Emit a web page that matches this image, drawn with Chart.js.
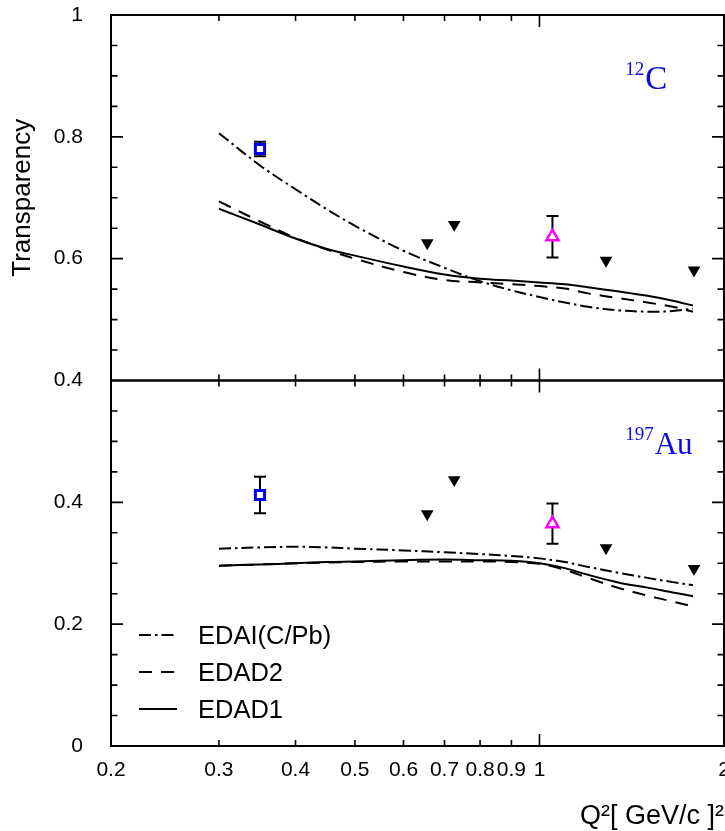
<!DOCTYPE html>
<html><head><meta charset="utf-8">
<script src="https://cdn.jsdelivr.net/npm/chart.js@4"></script>
<style>html,body{margin:0;padding:0;background:#fff}canvas{display:block}</style>
</head><body>
<canvas id="c" width="725" height="831"></canvas>
<script>
// ---------- data ----------
const curveX  = [0.3, 0.35, 0.4, 0.45, 0.5, 0.6, 0.7, 0.8, 0.9, 1.0, 1.1, 1.2, 1.35, 1.5, 1.65, 1.78];
// 12C panel
const cEDAI   = [0.806, 0.753, 0.714, 0.681, 0.654, 0.613, 0.585, 0.563, 0.548, 0.537, 0.528, 0.521, 0.515, 0.513, 0.514, 0.518];
const cEDAD2  = [0.694, 0.661, 0.634, 0.615, 0.600, 0.578, 0.565, 0.561, 0.558, 0.555, 0.551, 0.543, 0.535, 0.528, 0.521, 0.513];
const cEDAD1  = [0.682, 0.656, 0.633, 0.616, 0.605, 0.587, 0.574, 0.567, 0.564, 0.561, 0.558, 0.553, 0.546, 0.539, 0.531, 0.523];
// 197Au panel
const auEDAI  = [0.324, 0.326, 0.327, 0.326, 0.324, 0.321, 0.318, 0.315, 0.312, 0.308, 0.302, 0.294, 0.284, 0.276, 0.269, 0.264];
const auEDAD2 = [0.296, 0.298, 0.300, 0.301, 0.302, 0.303, 0.303, 0.303, 0.302, 0.299, 0.289, 0.276, 0.259, 0.247, 0.237, 0.229];
const auEDAD1 = [0.296, 0.298, 0.300, 0.302, 0.303, 0.305, 0.306, 0.305, 0.304, 0.300, 0.292, 0.281, 0.268, 0.260, 0.252, 0.246];
// measurements
const sqX = [0.35];
const sqC = [0.780], sqCErr = [0.012];
const sqAu = [0.412], sqAuErr = [0.030];
const triX = [1.05];
const triC = [0.636], triCErr = [0.034];
const triAu = [0.365], triAuErr = [0.033];
const dnX = [0.656, 0.726, 1.284, 1.787];
const dnC = [0.626, 0.656, 0.597, 0.581];
const dnAu = [0.381, 0.437, 0.325, 0.291];

const legendLabels = ['EDAI(C/Pb)', 'EDAD2', 'EDAD1'];
const xTickValues = [0.2, 0.3, 0.4, 0.5, 0.6, 0.7, 0.8, 0.9, 1, 2];
const xTickLabels = ['0.2', '0.3', '0.4', '0.5', '0.6', '0.7', '0.8', '0.9', '1', '2'];
const yTopRange = [0.4, 1.0];
const yBotRange = [0.0, 0.6];
const xTitle = 'Q\u00B2[ GeV/c ]\u00B2';
const yTitle = 'Transparency';

// ---------- helpers ----------
const pts = (xs, ys) => xs.map((x, i) => ({x: x, y: ys[i]}));
const SANS = '"Liberation Sans", Arial, Helvetica, sans-serif';
const SERIF = '"Liberation Serif", "Times New Roman", serif';
const DASHDOT = [12, 4, 2.5, 4];
const DASH = [13, 9];

function lineDs(label, xs, ys, axis, dash) {
  return {label, data: pts(xs, ys), yAxisID: axis, showLine: true, borderColor: '#000',
    borderWidth: 2, borderDash: dash, pointRadius: 0, tension: 0.35, fill: false};
}
function markDs(xs, ys, axis, style, opts) {
  return Object.assign({data: pts(xs, ys), yAxisID: axis, showLine: false, pointStyle: style}, opts);
}
const squareOpts = {pointRadius: 6.5, borderColor: '#0000ee', backgroundColor: '#fff', borderWidth: 3};
const triOpts = {pointRadius: 7, borderColor: '#ff00ff', backgroundColor: '#fff', borderWidth: 2.5};
const dnOpts = {pointRadius: 7.3, pointRotation: 180, borderColor: '#000', backgroundColor: '#000', borderWidth: 0};

const datasets = [
  lineDs(legendLabels[0], curveX, cEDAI, 'yTop', DASHDOT),
  lineDs(legendLabels[1], curveX, cEDAD2, 'yTop', DASH),
  lineDs(legendLabels[2], curveX, cEDAD1, 'yTop', []),
  lineDs(legendLabels[0], curveX, auEDAI, 'yBot', DASHDOT),
  lineDs(legendLabels[1], curveX, auEDAD2, 'yBot', DASH),
  lineDs(legendLabels[2], curveX, auEDAD1, 'yBot', []),
  Object.assign(markDs(sqX, sqC, 'yTop', 'rect', squareOpts), {errorBars: sqCErr}),
  Object.assign(markDs(triX, triC, 'yTop', 'triangle', triOpts), {errorBars: triCErr}),
  markDs(dnX, dnC, 'yTop', 'triangle', dnOpts),
  Object.assign(markDs(sqX, sqAu, 'yBot', 'rect', squareOpts), {errorBars: sqAuErr}),
  Object.assign(markDs(triX, triAu, 'yBot', 'triangle', triOpts), {errorBars: triAuErr}),
  markDs(dnX, dnAu, 'yBot', 'triangle', dnOpts)
];

// ---------- plugins ----------
const errorBarPlugin = {
  id: 'errorBars',
  beforeDatasetsDraw(chart) {
    const ctx = chart.ctx;
    ctx.save();
    ctx.strokeStyle = '#000';
    ctx.lineWidth = 2;
    chart.data.datasets.forEach((ds, di) => {
      if (!ds.errorBars) return;
      const meta = chart.getDatasetMeta(di);
      const ys = chart.scales[ds.yAxisID];
      meta.data.forEach((el, i) => {
        const v = ds.data[i].y, e = ds.errorBars[i];
        const y0 = ys.getPixelForValue(v - e), y1 = ys.getPixelForValue(v + e);
        ctx.beginPath();
        ctx.moveTo(el.x, y0); ctx.lineTo(el.x, y1);
        ctx.moveTo(el.x - 6, y0); ctx.lineTo(el.x + 6, y0);
        ctx.moveTo(el.x - 6, y1); ctx.lineTo(el.x + 6, y1);
        ctx.stroke();
      });
    });
    ctx.restore();
  }
};

const framePlugin = {
  id: 'frame',
  afterDatasetsDraw(chart) {
    const {ctx, chartArea: a, scales} = chart;
    const xs = scales.x, yT = scales.yTop, yB = scales.yBot;
    ctx.save();
    ctx.strokeStyle = '#000';
    ctx.lineWidth = 2;
    ctx.strokeRect(a.left, a.top, a.right - a.left, a.bottom - a.top);
    const mid = yT.getPixelForValue(yTopRange[0]);
    ctx.lineWidth = 2.5;
    ctx.beginPath(); ctx.moveTo(a.left, mid); ctx.lineTo(a.right, mid); ctx.stroke();
    ctx.lineWidth = 1.6;
    ctx.beginPath();
    [[yT, yTopRange], [yB, yBotRange]].forEach(([sc, r]) => {
      for (let i = 1; i < 12; i++) {
        const v = r[0] + i * 0.05;
        const p = sc.getPixelForValue(v);
        const len = (i % 4 === 0) ? 12 : 6.5;
        ctx.moveTo(a.left, p); ctx.lineTo(a.left + len, p);
        ctx.moveTo(a.right, p); ctx.lineTo(a.right - len, p);
      }
    });
    xTickValues.forEach(v => {
      const p = xs.getPixelForValue(v);
      if (p <= a.left + 1 || p >= a.right - 1) return;
      const lg = Math.log10(v);
      const len = Math.abs(lg - Math.round(lg)) < 1e-9 ? 12 : 6;
      ctx.moveTo(p, a.bottom); ctx.lineTo(p, a.bottom - len);
      ctx.moveTo(p, a.top); ctx.lineTo(p, a.top + len);
      ctx.moveTo(p, mid - len); ctx.lineTo(p, mid + len);
    });
    ctx.stroke();

    // legend (inside lower panel)
    ctx.font = '25.5px ' + SANS;
    ctx.fillStyle = '#000';
    ctx.textBaseline = 'middle';
    ctx.textAlign = 'left';
    for (let k = 0; k < 3; k++) {
      const ds = chart.data.datasets[k];
      const y = a.bottom - 111 + k * 37;
      ctx.save();
      ctx.lineWidth = 2;
      ctx.setLineDash(ds.borderDash || []);
      ctx.beginPath(); ctx.moveTo(a.left + 28, y); ctx.lineTo(a.left + 66, y); ctx.stroke();
      ctx.restore();
      ctx.fillText(ds.label, a.left + 87, y + 2);
    }

    // nucleus labels
    ctx.fillStyle = '#0a0ae6';
    ctx.textBaseline = 'alphabetic';
    const drawNuc = (sup, main, xv, sc, yv, size) => {
      const x = xs.getPixelForValue(xv), y = sc.getPixelForValue(yv);
      ctx.font = '19px ' + SERIF;
      ctx.fillText(sup, x, y - 14);
      const w = ctx.measureText(sup).width;
      ctx.font = size + 'px ' + SERIF;
      ctx.fillText(main, x + w + 1, y);
    };
    drawNuc('12', 'C', 1.38, yT, 0.879, 33);
    drawNuc('197', 'Au', 1.38, yB, 0.479, 31);
    ctx.restore();
  }
};

const tickFmt = v => { const r = Math.round(v * 10) / 10; return (r === 0 || r === 1) ? String(r) : r.toFixed(1); };
const fitY = sc => { sc.width = 111; sc.paddingTop = 0; sc.paddingBottom = 0; };

new Chart(document.getElementById('c'), {
  type: 'scatter',
  data: {datasets},
  options: {
    responsive: false,
    animation: false,
    events: [],
    layout: {autoPadding: false, padding: {top: 15, right: 1, left: 0, bottom: 0}},
    plugins: {legend: {display: false}, tooltip: {enabled: false}},
    scales: {
      x: {
        type: 'logarithmic', position: 'bottom', min: 0.2, max: 2,
        grid: {display: false, drawTicks: false}, border: {display: false},
        afterBuildTicks: sc => { sc.ticks = xTickValues.map(v => ({value: v})); },
        afterFit: sc => { sc.height = 85; sc.paddingLeft = 0; sc.paddingRight = 0; },
        ticks: {autoSkip: false, maxRotation: 0, padding: 12, color: '#000',
          font: {family: SANS, size: 21},
          callback: (v) => { const i = xTickValues.findIndex(t => Math.abs(t - v) < 1e-9); return i >= 0 ? xTickLabels[i] : ''; }},
        title: {display: true, text: xTitle, align: 'end', color: '#000',
          font: {family: SANS, size: 27, lineHeight: 1}, padding: {top: 0, bottom: 1}}
      },
      yBot: {
        type: 'linear', position: 'left', stack: 'panels', stackWeight: 1,
        min: yBotRange[0], max: yBotRange[1],
        grid: {display: false, drawTicks: false}, border: {display: false},
        afterFit: fitY,
        ticks: {stepSize: 0.2, padding: 28, color: '#000', font: {family: SANS, size: 21},
          callback: v => (Math.abs(v - yBotRange[1]) < 1e-9 ? null : tickFmt(v))}
      },
      yTop: {
        type: 'linear', position: 'left', stack: 'panels', stackWeight: 1,
        min: yTopRange[0], max: yTopRange[1],
        grid: {display: false, drawTicks: false}, border: {display: false},
        afterFit: fitY,
        ticks: {stepSize: 0.2, padding: 28, color: '#000', font: {family: SANS, size: 21},
          callback: v => tickFmt(v)},
        title: {display: true, text: yTitle, color: '#000',
          font: {family: SANS, size: 26, lineHeight: 1.2}, padding: {top: 7, bottom: 0}}
      }
    }
  },
  plugins: [errorBarPlugin, framePlugin]
});
</script>
</body></html>
